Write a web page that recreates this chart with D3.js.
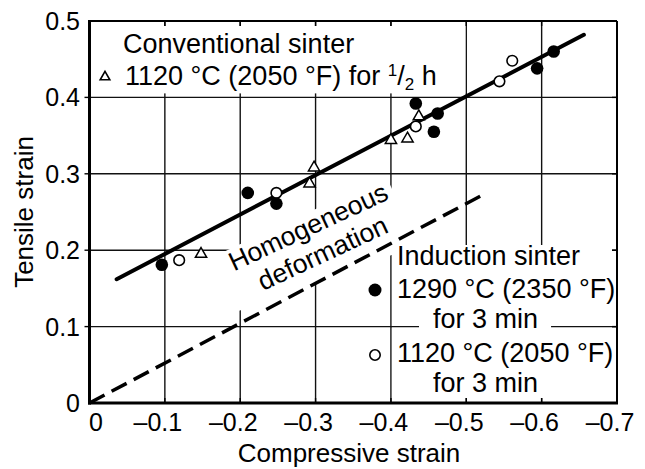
<!DOCTYPE html>
<html><head><meta charset="utf-8">
<script src="https://cdn.jsdelivr.net/npm/d3@7"></script>
<style>
body{margin:0;background:#fff}
svg{display:block}
text{font-family:"Liberation Sans",Arial,Helvetica,sans-serif;fill:#000}
</style>
</head><body>
<svg id="c" width="645" height="469"></svg>
<script>
// ---------- data ----------
const xTicks = [0, -0.1, -0.2, -0.3, -0.4, -0.5, -0.6, -0.7];
const xTickLabels = ["0", "\u20130.1", "\u20130.2", "\u20130.3", "\u20130.4", "\u20130.5", "\u20130.6", "\u20130.7"];
const yTicks = [0, 0.1, 0.2, 0.3, 0.4, 0.5];
const yTickLabels = ["0", "0.1", "0.2", "0.3", "0.4", "0.5"];

// Induction sinter 1290 °C (filled circles)
const induction1290 = [
  [-0.096, 0.181], [-0.210, 0.275], [-0.248, 0.261], [-0.433, 0.392],
  [-0.462, 0.379], [-0.457, 0.355], [-0.594, 0.438], [-0.616, 0.460]
];
// Induction sinter 1120 °C (open circles)
const induction1120 = [
  [-0.119, 0.187], [-0.248, 0.275], [-0.433, 0.362], [-0.544, 0.421], [-0.561, 0.448]
];
// Conventional sinter 1120 °C for 1/2 h (open triangles)
const conventional = [
  [-0.148, 0.195], [-0.292, 0.287], [-0.298, 0.308], [-0.400, 0.344],
  [-0.422, 0.346], [-0.437, 0.375]
];
// fitted line and homogeneous deformation line
const fitLine = [[-0.036, 0.162], [-0.656, 0.482]];
const homogeneousLine = [[0, 0], [-0.521, 0.272]];

// ---------- setup ----------
const svg = d3.select("#c");
const x = d3.scaleLinear().domain([0, -0.7]).range([89.5, 617]);
const y = d3.scaleLinear().domain([0, 0.5]).range([403, 21]);
const X0 = x(0), X1 = x(-0.7), Y0 = y(0), Y1 = y(0.5);

// ---------- grid ----------
const grid = svg.append("g").attr("stroke", "#111").attr("stroke-width", 1.4);
grid.selectAll("line.v").data(xTicks.slice(1, -1)).join("line")
  .attr("x1", d => x(d)).attr("x2", d => x(d)).attr("y1", Y0).attr("y2", Y1);
grid.selectAll("line.h").data(yTicks.slice(1, -1)).join("line")
  .attr("x1", X0).attr("x2", X1).attr("y1", d => y(d)).attr("y2", d => y(d));

// ---------- masks (white text backgrounds) ----------
// conventional sinter box
svg.append("rect").attr("fill", "#fff")
  .attr("x", X0 + 1.5).attr("y", Y1 + 5)
  .attr("width", x(-0.5) - X0 - 2.5).attr("height", y(0.4) - Y1 - 9);
// induction sinter box
svg.append("rect").attr("fill", "#fff")
  .attr("x", x(-0.4) + 1).attr("y", 245)
  .attr("width", X1 - x(-0.4) - 6).attr("height", Y0 - 245 - 5);
// rotated annotation background
const ann = svg.append("g").attr("transform", "translate(312,235) rotate(-25)");
ann.append("path").attr("fill", "#fff")
  .attr("d", "M-98,-22 L92,-22 L92,40 L66,52 L-98,38 Z");

// separator inside induction box (at 0.1)
svg.append("line").attr("stroke", "#111").attr("stroke-width", 1.4)
  .attr("x1", x(-0.4)).attr("x2", X1).attr("y1", y(0.1)).attr("y2", y(0.1));

// ---------- frame & ticks ----------
const fr = svg.append("g").attr("stroke", "#000").attr("fill", "none");
fr.append("line").attr("x1", X0).attr("x2", X1).attr("y1", Y1).attr("y2", Y1).attr("stroke-width", 2);
fr.append("line").attr("x1", X1).attr("x2", X1).attr("y1", Y1).attr("y2", Y0).attr("stroke-width", 2);
fr.append("line").attr("x1", X0).attr("x2", X0).attr("y1", Y1 - 1).attr("y2", Y0 + 1.5).attr("stroke-width", 3);
fr.append("line").attr("x1", X0 - 1.5).attr("x2", X1 + 1).attr("y1", Y0).attr("y2", Y0).attr("stroke-width", 3);
const tk = svg.append("g").attr("stroke", "#000").attr("stroke-width", 1.4);
xTicks.slice(1, -1).forEach(t => {
  tk.append("line").attr("x1", x(t)).attr("x2", x(t)).attr("y1", Y1).attr("y2", Y1 + 5);
  tk.append("line").attr("x1", x(t)).attr("x2", x(t)).attr("y1", Y0).attr("y2", Y0 - 5);
});
yTicks.slice(1, -1).forEach(t => {
  tk.append("line").attr("x1", X1).attr("x2", X1 - 5).attr("y1", y(t)).attr("y2", y(t));
  tk.append("line").attr("x1", X0).attr("x2", X0 - 5).attr("y1", y(t)).attr("y2", y(t));
});

// ---------- tick labels ----------
svg.append("g").selectAll("text").data(xTicks).join("text")
  .attr("x", d => x(d)).attr("y", 431)
  .attr("text-anchor", "middle").attr("font-size", 25)
  .attr("dx", (d, i) => i === 0 ? "0.26em" : "-0.28em")
  .text((d, i) => xTickLabels[i]);
svg.append("g").selectAll("text").data(yTicks).join("text")
  .attr("x", 80).attr("y", d => y(d)).attr("dy", "0.36em")
  .attr("text-anchor", "end").attr("font-size", 25)
  .text((d, i) => yTickLabels[i]);

// axis titles
svg.append("text").attr("x", 349).attr("y", 462).attr("text-anchor", "middle")
  .attr("font-size", 26).text("Compressive strain");
svg.append("text").attr("transform", "translate(33,212) rotate(-90)")
  .attr("text-anchor", "middle").attr("font-size", 26).text("Tensile strain");

// ---------- lines ----------
const line = d3.line().x(d => x(d[0])).y(d => y(d[1]));
svg.append("path").datum(homogeneousLine).attr("d", line)
  .attr("fill", "none").attr("stroke", "#000").attr("stroke-width", 3.5)
  .attr("stroke-dasharray", "17,8");
svg.append("path").datum(fitLine).attr("d", line)
  .attr("fill", "none").attr("stroke", "#000").attr("stroke-width", 4)
  .attr("stroke-linecap", "round");

// ---------- markers ----------
const tri = d3.symbol().type(d3.symbolTriangle).size(55);
const triSmall = d3.symbol().type(d3.symbolTriangle).size(40);
svg.append("g").selectAll("path").data(conventional).join("path")
  .attr("d", tri).attr("transform", d => `translate(${x(d[0])},${y(d[1])})`)
  .attr("fill", "#fff").attr("stroke", "#000").attr("stroke-width", 1.5);
svg.append("g").selectAll("circle").data(induction1120).join("circle")
  .attr("cx", d => x(d[0])).attr("cy", d => y(d[1])).attr("r", 5.3)
  .attr("fill", "#fff").attr("stroke", "#000").attr("stroke-width", 1.6);
svg.append("g").selectAll("circle").data(induction1290).join("circle")
  .attr("cx", d => x(d[0])).attr("cy", d => y(d[1])).attr("r", 6.3)
  .attr("fill", "#000");

// ---------- annotations ----------
const fs = 27;
// conventional sinter box
svg.append("text").attr("x", 123).attr("y", 53).attr("font-size", fs).text("Conventional sinter");
svg.append("path").attr("d", triSmall).attr("transform", "translate(105,77)")
  .attr("fill", "#fff").attr("stroke", "#000").attr("stroke-width", 1.6);
const t2 = svg.append("text").attr("x", 125).attr("y", 85).attr("font-size", fs);
t2.append("tspan").text("1120 \u00B0C (2050 \u00B0F) for ");
t2.append("tspan").attr("font-size", 17).attr("dy", -9).text("1");
t2.append("tspan").attr("dy", 9).text("/");
t2.append("tspan").attr("font-size", 17).attr("dy", 5).text("2");
t2.append("tspan").attr("dy", -5).text(" h");

// homogeneous deformation
ann.append("text").attr("x", 0).attr("y", 0).attr("text-anchor", "middle")
  .attr("font-size", 26.5).text("Homogeneous");
ann.append("text").attr("x", 2).attr("y", 30).attr("text-anchor", "middle")
  .attr("font-size", 26.5).text("deformation");

// induction sinter box
svg.append("text").attr("x", 397).attr("y", 265).attr("font-size", fs).text("Induction sinter");
svg.append("circle").attr("cx", 375).attr("cy", 290).attr("r", 6.5).attr("fill", "#000");
svg.append("text").attr("x", 397).attr("y", 298).attr("font-size", fs).text("1290 \u00B0C (2350 \u00B0F)");
const f1 = svg.append("text").attr("x", 433).attr("y", 328).attr("font-size", fs).text("for 3 min");
const bb = f1.node().getBBox();
svg.insert("rect", () => f1.node()).attr("fill", "#fff")
  .attr("x", bb.x - 14).attr("y", y(0.1) - 3).attr("width", bb.width + 27).attr("height", 6);
svg.append("circle").attr("cx", 375).attr("cy", 355).attr("r", 5.2)
  .attr("fill", "#fff").attr("stroke", "#000").attr("stroke-width", 1.6);
svg.append("text").attr("x", 397).attr("y", 362).attr("font-size", fs).text("1120 \u00B0C (2050 \u00B0F)");
svg.append("text").attr("x", 433).attr("y", 392).attr("font-size", fs).text("for 3 min");
</script>
</body></html>
